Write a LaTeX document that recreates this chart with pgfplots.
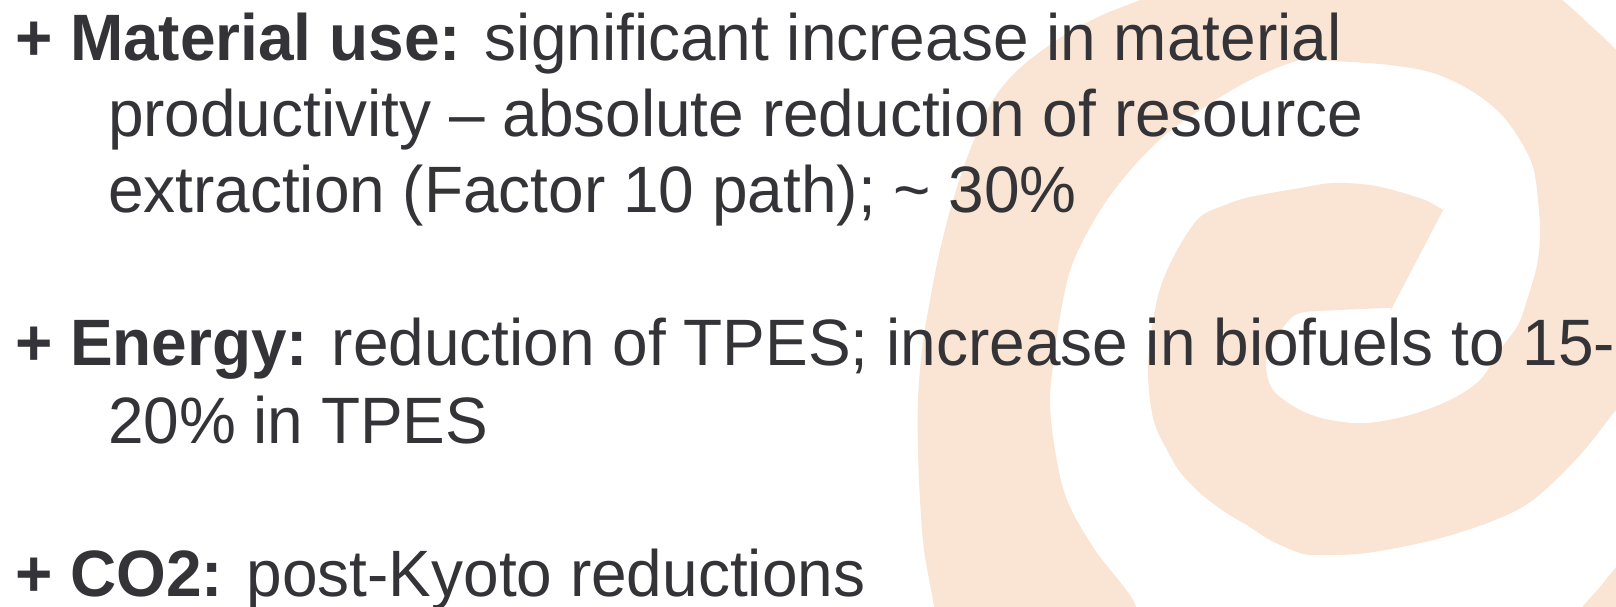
\documentclass[border=0pt]{standalone}
\usepackage{fontspec}
\setmainfont{Liberation Sans}[FakeStretch=0.975]
\usepackage{pgfplots}
\pgfplotsset{compat=1.18}
\definecolor{peach}{RGB}{250,228,211}
\definecolor{txt}{RGB}{52,52,56}
\begin{document}
\begin{tikzpicture}
\begin{axis}[scale only axis, width=808pt, height=303pt,
  xmin=0, xmax=1616, ymin=0, ymax=606, y dir=reverse,
  hide axis, clip=true, clip mode=global]
\coordinate (SW) at (rel axis cs:0,0);
\coordinate (NE) at (rel axis cs:1,1);
% main spiral band
\addplot[fill=peach, draw=none, smooth, tension=0.55] coordinates {
 (945,660) (940,640) (933,600) (924,550) (920,500) (918,450) (918,400) (922,350)
 (930,300) (940,250) (953,200) (970,150) (993,100) (1020,68) (1060,38)
 (1100,16) (1140,0) (1200,-25) (1300,-45) (1400,-45) (1480,-32) (1540,-12)
 (1562,0) (1590,25) (1616,50) (1650,90) (1675,140) (1692,200) (1695,260)
 (1685,310) (1660,360) (1640,385) (1616,410) (1580,455) (1533,500)
 (1490,522) (1433,540) (1367,553) (1320,555) (1300,553) (1270,540)
 (1250,527) (1225,512) (1200,493) (1180,472) (1167,450) (1155,425)
 (1150,400) (1148,370) (1150,340) (1157,300) (1165,275) (1180,245)
 (1200,217) (1225,205) (1250,197) (1300,188) (1333,183) (1370,185)
 (1400,192) (1425,200) (1438,207) (1443,210) (1441,214)
 (1394,304) (1392,308) (1386,308) (1340,310) (1300,313) (1285,325) (1272,345) (1266,365)
 (1273,390) (1300,410) (1330,420) (1367,423) (1410,415) (1450,400)
 (1480,380) (1500,350) (1518,325) (1527,300) (1537,265) (1540,233)
 (1538,200) (1533,167) (1520,140) (1500,113) (1470,90) (1433,73)
 (1390,65) (1333,61) (1300,60) (1250,80) (1200,110) (1165,135)
 (1133,167) (1107,200) (1087,233) (1072,265) (1063,300) (1055,350)
 (1050,400) (1055,450) (1067,500) (1095,550) (1133,600) (1145,640) (1150,660)
} -- cycle;
% corner patch
\addplot[fill=peach, draw=none] coordinates {
 (1560,630) (1583,606) (1600,587) (1616,567) (1640,540) (1660,630)
} -- cycle;
\tikzset{tl/.style={anchor=base west, inner sep=0pt, outer sep=0pt, text=txt,
  font=\fontsize{32.8}{38}\selectfont}}
\node[tl] at (axis cs:15,60) {\textbf{+ Material use:} significant increase in material};
\node[tl] at (axis cs:108,136) {productivity – absolute reduction of resource};
\node[tl] at (axis cs:108,212) {extraction (Factor 10 path); \textasciitilde{} 30\%};
\node[tl] at (axis cs:15,365) {\textbf{+ Energy:} reduction of TPES; increase in biofuels to 15-};
\node[tl] at (axis cs:108,443) {20\% in TPES};
\node[tl] at (axis cs:15,596) {\textbf{+ CO2:} post-Kyoto reductions};
\end{axis}
\pgfresetboundingbox
\useasboundingbox (SW) rectangle (NE);
\end{tikzpicture}
\end{document}
